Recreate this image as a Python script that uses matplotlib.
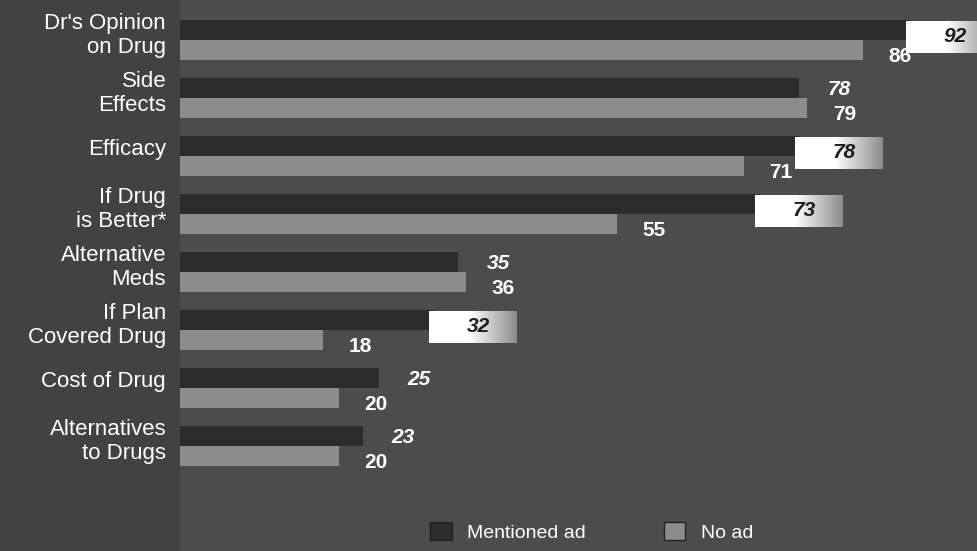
import numpy as np
import matplotlib
matplotlib.use('Agg')
from matplotlib import pyplot as plt
from matplotlib.patches import Patch

categories = ["Dr's Opinion\non Drug", "Side\nEffects", "Efficacy", "If Drug\nis Better*",
              "Alternative\nMeds", "If Plan\nCovered Drug", "Cost of Drug", "Alternatives\nto Drugs"]
mentioned_ad = [92, 78, 78, 73, 35, 32, 25, 23]
no_ad = [86, 79, 71, 55, 36, 18, 20, 20]
highlighted = [True, False, True, True, False, True, False, False]

bg = '#4c4c4c'
dark = '#2c2c2c'
light = '#8c8c8c'
fam = ['Liberation Sans', 'DejaVu Sans']

fig = plt.figure(figsize=(9.78, 5.51), dpi=100, facecolor='#424242')
ax = fig.add_axes([180/978, 0, 798/978, 1])
ax.set_facecolor(bg)

y = np.arange(len(categories))
h = 0.34
ax.barh(y - h/2, mentioned_ad, height=h, color=dark, label='Mentioned ad')
ax.barh(y + h/2, no_ad, height=h, color=light, label='No ad')

# gradient for the highlight boxes: white fading to gray
grad = np.concatenate([np.ones(45), np.linspace(1, 0.55, 55)]).reshape(1, -1)

for i in range(len(categories)):
    if highlighted[i]:
        x0 = mentioned_ad[i] - 0.6
        ax.imshow(grad, cmap='gray', vmin=0, vmax=1, aspect='auto',
                  extent=(x0, x0 + 11, i + 0.22, i - 0.33), zorder=3, interpolation='bilinear')
        ax.text(x0 + 6.2, i - 0.06, str(mentioned_ad[i]), color='#1e1e1e', fontsize=15,
                fontweight='bold', style='italic', ha='center', va='center', zorder=4, family=fam)
    else:
        ax.text(mentioned_ad[i] + 3.6, i - h/2 + 0.02, str(mentioned_ad[i]), color='white',
                fontsize=15, fontweight='bold', style='italic', ha='left', va='center', family=fam)
    ax.text(no_ad[i] + 3.2, i + h/2 + 0.12, str(no_ad[i]), color='white',
            fontsize=15, fontweight='bold', ha='left', va='center', family=fam)

ax.set_xlim(0, 100.5)
ax.set_ylim(8.81, -0.69)
ax.set_yticks(y - 0.15)
ax.set_yticklabels(categories, color='white', fontsize=16, linespacing=1.2, family=fam)
ax.tick_params(axis='y', length=0, pad=10)
ax.set_xticks([])
for s in ax.spines.values():
    s.set_visible(False)

handles = [Patch(facecolor=dark, edgecolor='#222222'), Patch(facecolor=light, edgecolor='#222222')]
fig.legend(handles, ['Mentioned ad', 'No ad'], loc='center', bbox_to_anchor=(0.605, 0.035),
           ncol=2, frameon=False, labelcolor='white', handlelength=1.1,
           handleheight=1.1, columnspacing=4.0, prop={'family': fam, 'size': 14})

fig.savefig('out.png', dpi=100, facecolor=fig.get_facecolor())
